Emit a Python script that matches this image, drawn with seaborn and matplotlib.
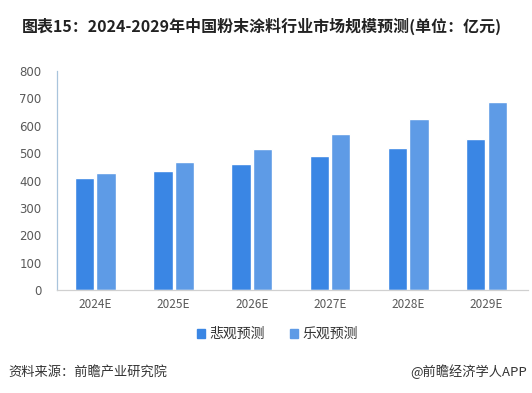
import matplotlib.pyplot as plt
import pandas as pd
import seaborn as sns

# data (亿元)
years = ['2024E', '2025E', '2026E', '2027E', '2028E', '2029E']
pessimistic = [409, 435, 460, 489, 519, 552]
optimistic = [427, 468, 515, 570, 625, 687]
series_names = ['悲观预测', '乐观预测']
yticks = [0, 100, 200, 300, 400, 500, 600, 700, 800]

df = pd.DataFrame({
    'year': years * 2,
    'value': pessimistic + optimistic,
    'series': [series_names[0]] * len(years) + [series_names[1]] * len(years),
})

sns.set_style('white')
plt.rcParams['font.family'] = ['Noto Sans CJK SC', 'DejaVu Sans']

colors = ['#3a86e4', '#5e9be6']

fig = plt.figure(figsize=(5.32, 3.93), dpi=100)
ax = fig.add_axes([57 / 532, 1 - 290 / 393, (528 - 57) / 532, (290 - 71) / 393])

sns.barplot(data=df, x='year', y='value', hue='series', palette=colors,
            width=0.55, gap=0.1, ax=ax, legend=False, saturation=1)

ax.set_xlim(-0.49, 5.53)
ax.set_ylim(0, 800)
ax.set_yticks(yticks)
ax.set_xlabel('')
ax.set_ylabel('')
ax.tick_params(axis='both', length=0, labelsize=8.5, colors='#595959')
ax.tick_params(axis='y', pad=11)
ax.tick_params(axis='x', pad=6)
for lab in ax.get_yticklabels():
    lab.set_family(['DejaVu Sans'])
for side in ['top', 'right']:
    ax.spines[side].set_visible(False)
ax.spines['left'].set_color('#a9c4dc')
ax.spines['left'].set_linewidth(0.9)
ax.spines['bottom'].set_color('#d0d0d0')
ax.spines['bottom'].set_linewidth(0.9)

# legend
handles = [plt.Rectangle((0, 0), 1, 1, color=c) for c in colors]
fig.legend(handles, series_names, loc='center', bbox_to_anchor=(277 / 532, 1 - 334 / 393),
           ncol=2, frameon=False, fontsize=10, handlelength=0.6, handleheight=0.6,
           handletextpad=0.3, columnspacing=1.8, labelcolor='#333333')

fig.text(262 / 532, 1 - 26 / 393, '图表15：2024-2029年中国粉末涂料行业市场规模预测(单位：亿元)',
         ha='center', va='center', fontsize=11.5, fontweight='bold', color='#222222')
fig.text(8 / 532, 1 - 372 / 393, '资料来源：前瞻产业研究院', ha='left', va='center',
         fontsize=9.5, color='#333333')
fig.text(527 / 532, 1 - 372 / 393, '@前瞻经济学人APP', ha='right', va='center',
         fontsize=9.5, color='#333333')

plt.savefig('out.png', dpi=100)
